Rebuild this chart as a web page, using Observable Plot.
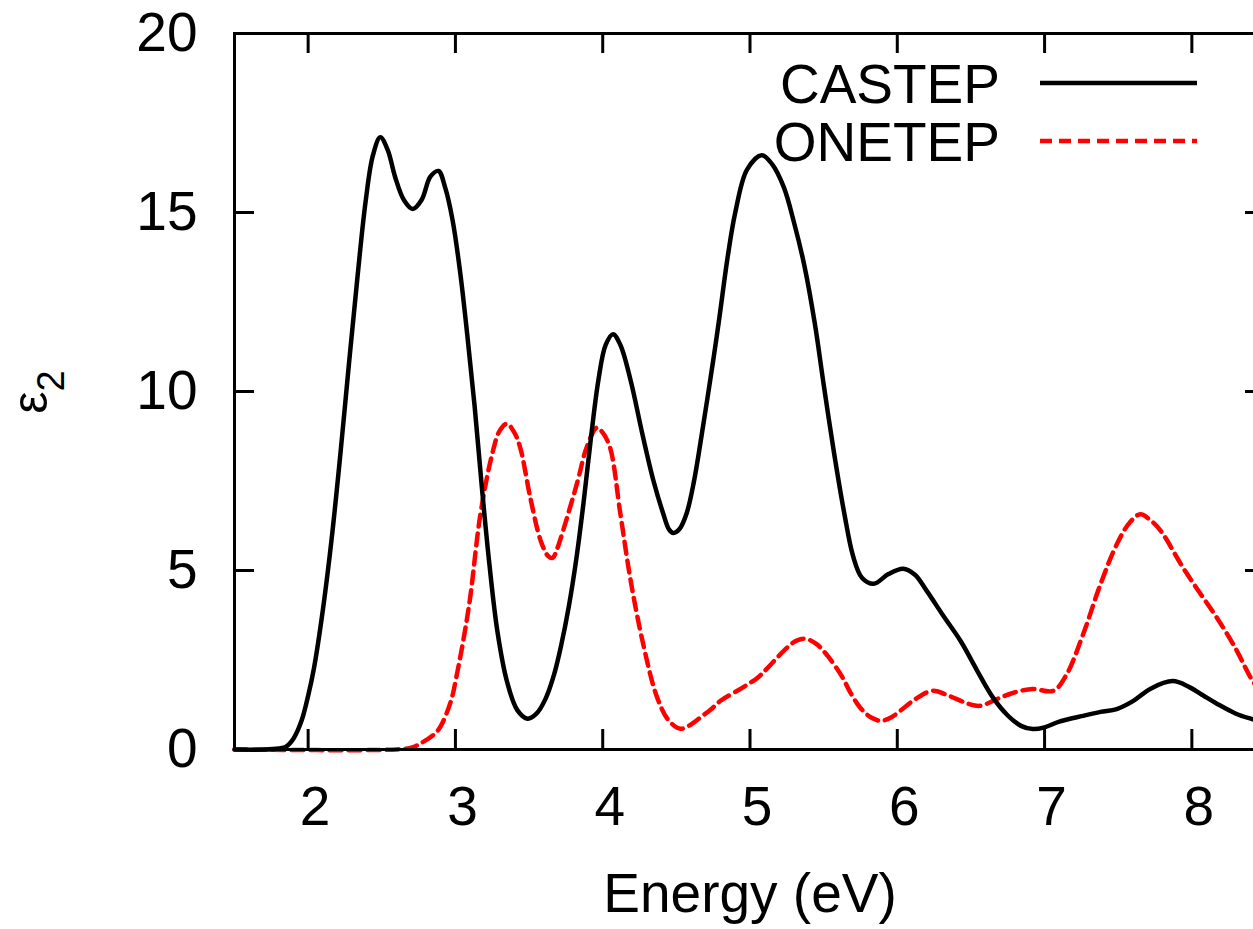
<!DOCTYPE html>
<html>
<head>
<meta charset="utf-8">
<script src="https://cdn.jsdelivr.net/npm/d3@7"></script>
<script src="https://cdn.jsdelivr.net/npm/@observablehq/plot@0.6"></script>
<style>
html, body { margin: 0; padding: 0; overflow: hidden; background: #fff; }
#chart svg { display: block; max-width: none !important; width: 1280px !important; height: 929px !important; }
</style>
</head>
<body>
<div id="chart"></div>
<script>
// ---- data ----
const castepE = [1.5, 1.7, 1.8, 1.85, 1.9, 1.955, 2.0, 2.04, 2.1, 2.16, 2.22, 2.28, 2.335, 2.39, 2.44, 2.49, 2.54, 2.59, 2.65, 2.71, 2.77, 2.83, 2.885, 2.93, 2.98, 3.03, 3.08, 3.13, 3.18, 3.23, 3.285, 3.35, 3.42, 3.49, 3.55, 3.61, 3.67, 3.72, 3.77, 3.82, 3.87, 3.92, 3.97, 4.02, 4.07, 4.12, 4.19, 4.27, 4.345, 4.41, 4.45, 4.48, 4.52, 4.57, 4.62, 4.68, 4.75, 4.79, 4.85, 4.9, 4.98, 5.08, 5.15, 5.23, 5.3, 5.37, 5.44, 5.5, 5.57, 5.64, 5.7, 5.76, 5.84, 5.94, 6.04, 6.12, 6.2, 6.31, 6.43, 6.54, 6.65, 6.75, 6.84, 6.92, 7.0, 7.1, 7.26, 7.38, 7.49, 7.6, 7.72, 7.87, 7.98, 8.08, 8.17, 8.3, 8.4, 8.5];
const castepEps = [0, 0, 0.03, 0.08, 0.3, 0.8, 1.5, 2.28, 3.9, 5.9, 8.3, 10.9, 13.2, 15.3, 16.6, 17.1, 16.75, 16.0, 15.35, 15.1, 15.35, 16.0, 16.16, 15.7, 14.8, 13.4, 11.6, 9.6, 7.3, 5.2, 3.3, 1.9, 1.1, 0.86, 1.0, 1.4, 2.1, 2.95, 4.0, 5.3, 6.9, 8.7, 10.3, 11.3, 11.6, 11.3, 10.3, 8.8, 7.5, 6.6, 6.15, 6.05, 6.15, 6.6, 7.5, 9.0, 10.86, 12.0, 13.8, 15.0, 16.2, 16.6, 16.35, 15.7, 14.7, 13.5, 11.9, 10.2, 8.3, 6.6, 5.4, 4.8, 4.63, 4.9, 5.05, 4.88, 4.43, 3.75, 3.03, 2.22, 1.45, 0.95, 0.66, 0.57, 0.62, 0.78, 0.94, 1.05, 1.13, 1.35, 1.7, 1.91, 1.75, 1.5, 1.28, 1.0, 0.86, 0.75];

const onetepE = [1.5, 2.6, 2.7, 2.76, 2.86, 2.9, 2.97, 3.01, 3.06, 3.1, 3.17, 3.25, 3.3, 3.35, 3.4, 3.44, 3.51, 3.58, 3.63, 3.66, 3.69, 3.73, 3.83, 3.89, 3.96, 4.0, 4.05, 4.12, 4.19, 4.28, 4.37, 4.45, 4.53, 4.6, 4.68, 4.73, 4.8, 4.95, 5.05, 5.12, 5.25, 5.32, 5.38, 5.45, 5.53, 5.63, 5.68, 5.75, 5.82, 5.89, 5.96, 6.02, 6.12, 6.24, 6.35, 6.48, 6.56, 6.7, 6.8, 6.92, 7.06, 7.15, 7.26, 7.38, 7.49, 7.58, 7.65, 7.72, 7.79, 7.94, 8.05, 8.17, 8.3, 8.4, 8.5];
const onetepEps = [0, 0, 0.05, 0.16, 0.44, 0.65, 1.36, 2.1, 3.2, 4.24, 6.58, 8.26, 8.9, 9.1, 8.85, 8.43, 7.0, 5.82, 5.4, 5.35, 5.6, 6.1, 7.5, 8.43, 8.99, 8.85, 8.43, 6.58, 4.71, 2.85, 1.45, 0.8, 0.58, 0.7, 0.95, 1.1, 1.36, 1.73, 2.0, 2.28, 2.84, 3.05, 3.09, 2.95, 2.6, 2.0, 1.6, 1.16, 0.9, 0.8, 0.9, 1.08, 1.4, 1.64, 1.5, 1.28, 1.22, 1.45, 1.6, 1.69, 1.64, 2.1, 3.2, 4.62, 5.73, 6.35, 6.57, 6.4, 6.1, 5.08, 4.4, 3.68, 2.8, 2.0, 1.4];

const xTicks = [2, 3, 4, 5, 6, 7, 8];
const yTicks = [0, 5, 10, 15, 20];
const seriesNames = ["CASTEP", "ONETEP"];
const seriesColors = ["#000000", "#ff0000"];
const seriesDash = [null, "12,7"];
const xLabel = "Energy (eV)";
const yLabelMain = "ε";
const yLabelSub = "2";

// ---- build tables ----
const castepRows = castepE.map((e, i) => ({series: seriesNames[0], e, eps: castepEps[i]}));
const onetepRows = onetepE.map((e, i) => ({series: seriesNames[1], e, eps: onetepEps[i]}));

const W = 1280, H = 929;
const mL = 234, mR = 15, mT = 33, mB = 180;
const frameW = W - mL - mR, frameH = H - mT - mB;
const tickLen = 20;
const font = "'Liberation Sans', Arial, Helvetica, sans-serif";

const plot = Plot.plot({
  width: W,
  height: H,
  marginLeft: mL,
  marginRight: mR,
  marginTop: mT,
  marginBottom: mB,
  style: {fontFamily: font, fontSize: "55px", color: "#000", background: "#fff", overflow: "visible"},
  x: {domain: [1.5, 8.5]},
  y: {domain: [0, 20]},
  marks: [
    Plot.axisX(xTicks, {anchor: "bottom", tickSize: 0, tickPadding: 36, dx: 7, label: null, fontSize: 55, tickFormat: d => String(d)}),
    Plot.axisY(yTicks, {anchor: "left", tickSize: 0, tickPadding: 37, label: null, fontSize: 55, tickFormat: d => String(d)}),
    Plot.tickX(xTicks, {x: d => d, insetTop: frameH - tickLen, stroke: "#000", strokeWidth: 3}),
    Plot.tickX(xTicks, {x: d => d, insetBottom: frameH - tickLen, stroke: "#000", strokeWidth: 3}),
    Plot.tickY(yTicks, {y: d => d, insetRight: frameW - tickLen, stroke: "#000", strokeWidth: 3}),
    Plot.tickY(yTicks, {y: d => d, insetLeft: frameW - tickLen, stroke: "#000", strokeWidth: 3}),
    Plot.line(onetepRows, {x: "e", y: "eps", stroke: seriesColors[1], strokeWidth: 4.5, strokeDasharray: seriesDash[1], curve: "catmull-rom"}),
    Plot.line(castepRows, {x: "e", y: "eps", stroke: seriesColors[0], strokeWidth: 4.5, curve: "catmull-rom"}),
    Plot.frame({stroke: "#000", strokeWidth: 3}),
    Plot.text([xLabel], {frameAnchor: "bottom", dy: 145, lineAnchor: "middle", fontSize: 55})
  ]
});

document.getElementById("chart").appendChild(plot);

const svg = d3.select(plot);

// y-axis label: epsilon with subscript 2, rotated
const yl = svg.append("text")
  .attr("transform", "translate(47,392) rotate(-90)")
  .attr("text-anchor", "middle")
  .attr("font-family", font)
  .attr("font-size", 50)
  .attr("fill", "#000");
yl.append("tspan").text(yLabelMain);
yl.append("tspan").attr("font-size", 38).attr("dy", 17).text(yLabelSub);

// legend (inside the frame, top right)
const legend = svg.append("g").attr("font-family", font).attr("font-size", 55);
seriesNames.forEach((name, i) => {
  const cy = 83 + i * 58;
  legend.append("text").attr("x", 1000).attr("y", cy).attr("dy", "0.36em")
    .attr("text-anchor", "end").attr("fill", "#000").text(name);
  legend.append("line").attr("x1", 1040).attr("x2", 1197).attr("y1", cy).attr("y2", cy)
    .attr("stroke", seriesColors[i]).attr("stroke-width", 4.5)
    .attr("stroke-dasharray", seriesDash[i]);
});
</script>
</body>
</html>
